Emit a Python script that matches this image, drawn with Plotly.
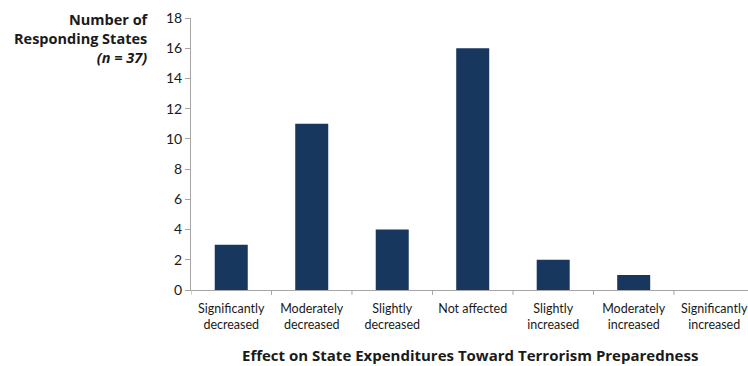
import plotly.graph_objects as go

categories = ["Significantly<br>decreased", "Moderately<br>decreased", "Slightly<br>decreased",
              "Not affected", "Slightly<br>increased", "Moderately<br>increased", "Significantly<br>increased"]
values = [3, 11, 4, 16, 2, 1, 0]
y_ticks = list(range(0, 19, 2))

FONT = "Lato, 'DejaVu Sans', sans-serif"
TFONT = "'Open Sans', 'DejaVu Sans', sans-serif"
AXIS_GRAY = "#a6a6a6"

fig = go.Figure()
fig.add_trace(go.Bar(
    x=list(range(len(categories))), y=values,
    marker=dict(color="#17375E", line=dict(width=0)),
    width=0.41,
))

fig.update_layout(
    width=748, height=366,
    margin=dict(l=191, r=0, t=18, b=76),
    paper_bgcolor="white", plot_bgcolor="white",
    showlegend=False,
    font=dict(family=FONT, color="#1a1a1a"),
    bargap=0.6,
)
fig.update_xaxes(
    tickmode="array", tickvals=list(range(len(categories))), ticktext=categories,
    range=[-0.5, 6.42],
    showline=True, linecolor=AXIS_GRAY, linewidth=1,
    ticks="", showgrid=False, zeroline=False,
    ticklabelstandoff=7,
    tickfont=dict(size=12.5, family=FONT, color="#1a1a1a"),
)
fig.add_annotation(
    xref="paper", yref="paper", x=0.5, y=0, yshift=-65, xanchor="center", yanchor="middle",
    text="<b>Effect on State Expenditures Toward Terrorism Preparedness</b>",
    showarrow=False, font=dict(size=15, family=TFONT, color="#1a1a1a"),
)
# boundary ticks
for b in [-0.5, 0.5, 1.5, 2.5, 3.5, 4.5, 5.5]:
    fig.add_shape(type="line", xref="x", yref="paper", x0=b, x1=b, y0=0, y1=-0.018,
                  line=dict(color=AXIS_GRAY, width=1))
fig.update_yaxes(
    range=[0, 18], tickvals=y_ticks,
    showline=True, linecolor=AXIS_GRAY, linewidth=1,
    ticks="outside", ticklen=5, tickcolor=AXIS_GRAY,
    showgrid=False, zeroline=False,
    tickfont=dict(size=14, family=FONT, color="#1a1a1a"),
)
fig.add_annotation(
    xref="paper", yref="paper", x=-0.0715, y=1.0, xanchor="right", yanchor="top",
    yshift=10,
    text="<b>Number of<br>Responding States<br><i>(n = 37)</i></b>",
    showarrow=False, align="right",
    font=dict(size=14.5, family=TFONT, color="#1a1a1a"),
)

fig.write_html("out.html")
